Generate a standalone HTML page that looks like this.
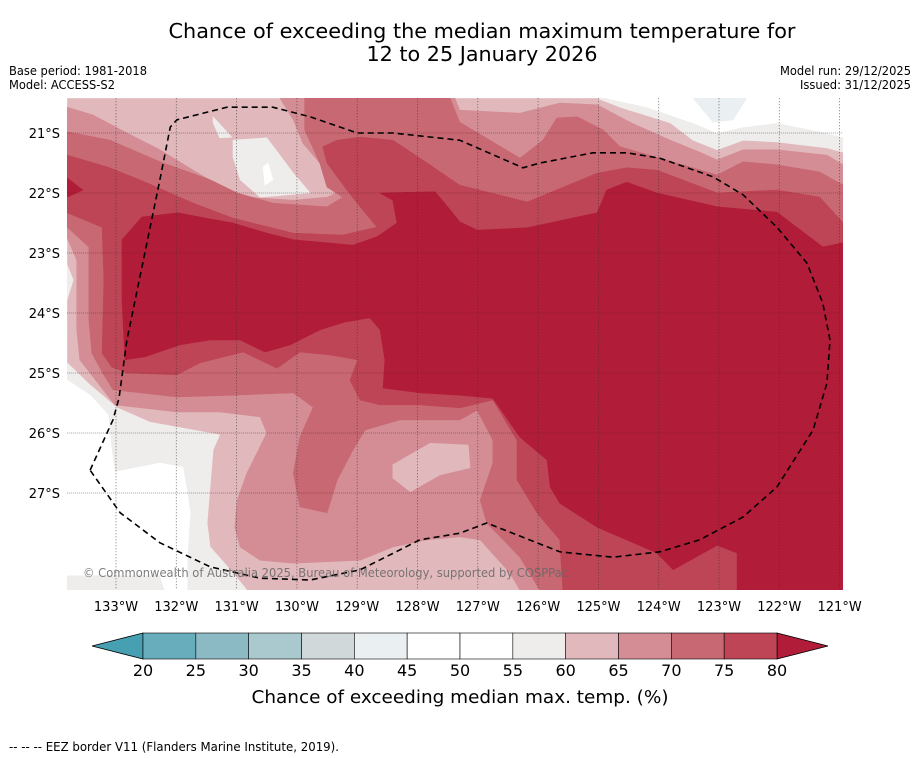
<!DOCTYPE html>
<html><head><meta charset="utf-8"><style>
html,body{margin:0;padding:0;background:#fff;}
svg{display:block;font-family:"DejaVu Sans","Liberation Sans",sans-serif;}
</style></head><body>
<svg id="fig" width="919" height="758" viewBox="0 0 919 758" xmlns="http://www.w3.org/2000/svg">
<text x="482" y="38" font-size="20" text-anchor="middle" textLength="627" lengthAdjust="spacingAndGlyphs">Chance of exceeding the median maximum temperature for</text>
<text x="482" y="61" font-size="20" text-anchor="middle" textLength="231" lengthAdjust="spacingAndGlyphs">12 to 25 January 2026</text>
<text x="9" y="75" font-size="12" textLength="138" lengthAdjust="spacingAndGlyphs">Base period: 1981-2018</text>
<text x="9" y="89" font-size="12" textLength="106" lengthAdjust="spacingAndGlyphs">Model: ACCESS-S2</text>
<text x="911" y="75" font-size="12" text-anchor="end" textLength="131" lengthAdjust="spacingAndGlyphs">Model run: 29/12/2025</text>
<text x="911" y="89" font-size="12" text-anchor="end" textLength="111" lengthAdjust="spacingAndGlyphs">Issued: 31/12/2025</text>
<defs><clipPath id="mapclip"><rect x="67" y="98" width="776" height="492"/></clipPath></defs>
<g id="map" clip-path="url(#mapclip)"></g>
<g id="axes"></g>
<text x="83" y="577" font-size="12" fill="#666" fill-opacity="0.85" textLength="485" lengthAdjust="spacingAndGlyphs">© Commonwealth of Australia 2025, Bureau of Meteorology, supported by COSPPac</text>
<g id="cbar"></g>
<text x="460" y="703" font-size="18" text-anchor="middle" textLength="417" lengthAdjust="spacingAndGlyphs">Chance of exceeding median max. temp. (%)</text>
<text x="9" y="751" font-size="12" textLength="330" lengthAdjust="spacingAndGlyphs">-- -- -- EEZ border V11 (Flanders Marine Institute, 2019).</text>
</svg>
<script>
// ---- data (lon in degrees W, lat in degrees S) ----
const lonTicks = [133,132,131,130,129,128,127,126,125,124,123,122,121];
const latTicks = [21,22,23,24,25,26,27];
const latTickLabels = ["21°S","22°S","23°S","24°S","25°S","26°S","27°S"];
const cbarBounds = [20,25,30,35,40,45,50,55,60,65,70,75,80];
const cbarColors = ["#67adbc","#8bbac5","#a9c9ce","#d0d8da","#eaeff1","#ffffff","#ffffff","#efedeb","#e1b8bc","#d48d95","#c86873","#be4555"];
const lowExtendColor = "#46a0b1";
const highExtendColor = "#b11c38";
const extentW = 133.81, extentE = 120.94, extentN = 20.42, extentS = 28.62;

const greyBottomLeft = [133.81,24.83,133.43,25.20,132.98,25.58,132.44,25.82,131.28,26.03,131.39,26.28,131.49,27.50,131.44,27.90,131.06,28.33,130.83,28.62,133.81,28.62];
const greyLeftSpot = [133.81,23.20,133.71,23.45,133.81,23.78];
const whiteBottomLeft = [133.81,25.12,133.43,25.37,133.13,25.70,133.07,26.32,133.02,26.65,132.27,26.50,131.89,26.57,131.82,27.00,131.77,27.33,131.82,28.07,131.82,28.62,132.19,28.62,132.27,28.37,133.81,28.37];
const greyTopLeft1 = [131.39,20.73,131.08,21.07,131.28,21.08,131.39,20.83];
const greyTopLeft2 = [131.06,21.12,130.50,21.08,130.06,21.67,129.78,22.00,130.61,22.07,130.94,21.78,131.06,21.40];
const whiteTopLeftSpot = [130.56,21.57,130.48,21.50,130.40,21.78,130.53,21.87];
const greyTopRight = [125.02,20.42,124.64,20.57,123.81,20.83,123.43,21.12,123.03,21.28,122.60,21.12,122.04,21.15,121.21,21.25,120.94,21.32,120.94,20.42];
const whiteTopRight = [124.86,20.42,124.19,20.57,123.43,20.83,123.03,21.00,122.60,20.90,122.04,20.83,121.21,21.00,120.94,21.07,120.94,20.42];
const blueTopRight = [123.43,20.42,123.10,20.82,122.77,20.78,122.54,20.42];
const region65 = [133.81,20.57,133.38,20.70,132.82,21.00,132.27,21.28,131.72,21.62,131.16,21.95,130.83,22.07,130.06,22.12,129.50,22.07,129.24,21.95,129.33,21.78,129.62,21.50,129.90,21.17,130.06,20.78,130.28,20.42,127.38,20.42,127.30,20.62,126.30,20.67,125.64,20.50,125.02,20.53,124.48,20.82,123.81,21.12,123.32,21.32,123.03,21.45,122.60,21.28,122.04,21.28,121.21,21.37,120.94,21.53,120.94,28.62,126.30,28.62,126.47,28.33,126.96,27.78,127.30,27.73,127.84,27.78,128.41,27.90,128.95,28.12,130.06,28.17,130.61,28.12,130.94,27.90,131.03,27.57,130.99,27.12,130.83,26.67,130.50,26.00,130.61,25.73,131.28,25.65,131.99,25.65,133.02,25.53,133.60,24.78,133.65,24.28,133.65,23.12,133.81,22.75];
const pocket60 = [128.41,26.53,127.79,26.17,127.16,26.20,127.13,26.58,127.63,26.70,128.12,26.98,128.41,26.75];
const region70 = [133.81,20.98,133.10,21.12,132.27,21.48,131.44,21.78,130.99,22.00,130.40,22.17,129.50,22.23,129.24,22.07,129.50,21.90,129.62,21.50,129.87,20.95,129.87,20.42,127.46,20.42,127.30,20.82,126.30,21.42,125.92,21.12,125.69,20.75,125.35,20.73,124.92,20.95,124.64,21.23,123.98,21.42,123.03,21.70,122.60,21.48,122.04,21.53,121.33,21.65,120.94,21.87,120.94,28.62,125.97,28.62,126.30,28.07,126.85,27.50,126.96,27.12,126.75,26.50,126.75,26.12,127.01,25.62,127.30,25.78,128.29,25.78,128.87,25.95,129.07,26.28,129.33,26.78,129.50,27.33,129.95,27.23,130.06,26.67,129.95,26.07,129.73,25.57,130.06,25.33,131.06,25.37,131.99,25.40,133.05,25.28,133.22,25.00,133.40,24.67,133.45,24.12,133.45,22.90,133.81,22.57];
const region75 = [133.81,21.37,133.10,21.58,132.49,21.83,131.72,22.17,131.06,22.42,130.06,22.67,129.24,22.70,128.67,22.57,128.95,22.23,129.17,21.95,129.50,21.50,129.57,21.23,129.33,21.12,128.95,21.07,128.41,21.12,127.84,21.50,127.30,21.87,126.18,22.15,125.02,21.67,124.53,21.58,124.03,21.62,123.03,22.00,122.04,21.95,121.33,22.07,120.94,22.50,120.94,28.62,125.59,28.62,125.64,27.78,126.02,27.33,126.35,26.78,126.35,26.12,126.75,25.45,127.30,25.58,127.96,25.53,128.62,25.53,128.95,25.45,129.12,25.12,128.99,24.78,129.45,24.70,129.95,24.65,130.33,24.92,130.89,24.65,131.61,24.83,131.99,25.03,132.82,25.00,133.07,24.90,133.23,24.67,133.20,23.45,133.23,22.57,133.81,22.33];
const region80 = [132.90,22.78,132.57,22.40,131.97,22.33,131.61,22.40,131.06,22.50,130.50,22.67,130.06,22.78,129.50,22.83,129.07,22.87,128.67,22.73,128.34,22.50,128.41,22.12,128.62,22.00,127.71,21.98,127.46,22.28,127.30,22.48,127.01,22.62,126.18,22.58,125.02,22.33,124.86,21.95,124.53,21.82,124.03,22.00,123.03,22.23,122.04,22.32,121.28,22.90,120.94,22.83,120.94,28.62,122.70,28.62,122.70,28.00,123.03,27.87,123.76,28.28,124.03,28.00,125.02,27.57,125.64,27.17,125.80,26.90,125.85,26.45,126.30,26.07,126.75,25.42,127.30,25.37,127.96,25.33,128.57,25.25,128.54,24.78,128.62,24.28,128.79,24.08,129.20,24.15,129.62,24.28,130.11,24.53,130.53,24.65,130.94,24.45,131.44,24.45,131.94,24.53,132.52,24.73,132.85,24.78,132.90,23.78];
const region80Left = [133.81,21.75,133.55,21.95,133.81,22.07];
const eezBorder = [133.43,26.62,133.05,25.78,132.95,25.42,132.82,24.45,132.29,21.87,132.10,20.90,131.99,20.78,131.16,20.57,130.40,20.57,129.78,20.73,129.00,21.00,128.41,21.00,127.30,21.12,126.25,21.58,125.97,21.50,125.09,21.33,124.53,21.33,123.98,21.42,123.10,21.73,122.60,22.03,122.04,22.57,121.54,23.17,121.28,23.83,121.16,24.45,121.21,25.17,121.44,25.95,122.04,26.90,122.60,27.40,123.32,27.78,123.98,27.98,124.76,28.07,125.64,27.98,126.85,27.50,127.30,27.67,127.96,27.78,128.95,28.28,129.78,28.45,130.61,28.42,131.44,28.23,132.27,27.83,132.93,27.33,133.43,26.62];

// ---- axis functions ----
const NS = "http://www.w3.org/2000/svg";
function xOf(lonW){ return 116 + (133 - lonW) * 60.3; }
function yOf(latS){ return 133 + (latS - 21) * 60; }
function pts(arr){ let s=[]; for(let i=0;i<arr.length;i+=2){ s.push(xOf(arr[i]).toFixed(1)+","+yOf(arr[i+1]).toFixed(1)); } return s.join(" "); }
function mk(tag, parent){ const e=document.createElementNS(NS,tag); parent.appendChild(e); return e; }

const map = document.getElementById("map");
const bg = mk("rect", map);


bg.setAttribute("x", xOf(extentW)); bg.setAttribute("y", yOf(extentN));
bg.setAttribute("width", xOf(extentE)-xOf(extentW)); bg.setAttribute("height", yOf(extentS)-yOf(extentN));
bg.setAttribute("fill", "#e1b8bc");

function poly(arr, color, name){
  const p = mk("polygon", map);
  
  
  p.setAttribute("points", pts(arr));
  p.setAttribute("fill", color);
  p.setAttribute("stroke", color);
  p.setAttribute("stroke-width", "0.6");
}
poly(greyBottomLeft, "#efedeb", "contour-55-60-southwest");
poly(greyLeftSpot, "#efedeb", "contour-55-60-west-spot");
poly(whiteBottomLeft, "#ffffff", "contour-45-55-southwest");
poly(greyTopLeft1, "#efedeb", "contour-55-60-north-spot");
poly(greyTopLeft2, "#efedeb", "contour-55-60-north");
poly(whiteTopLeftSpot, "#ffffff", "contour-45-55-north-spot");
poly(greyTopRight, "#efedeb", "contour-55-60-northeast");
poly(whiteTopRight, "#ffffff", "contour-45-55-northeast");
poly(blueTopRight, "#eaeff1", "contour-40-45-northeast");
poly(region65, "#d48d95", "contour-65-70");
poly(pocket60, "#e1b8bc", "contour-60-65-pocket");
poly(region70, "#c86873", "contour-70-75");
poly(region75, "#be4555", "contour-75-80");
poly(region80, "#b11c38", "contour-above-80");
poly(region80Left, "#b11c38", "contour-above-80-west");

// grid
lonTicks.forEach(function(l){
  const ln = mk("line", map);
  
  
  ln.setAttribute("x1", xOf(l)); ln.setAttribute("x2", xOf(l));
  ln.setAttribute("y1", yOf(extentN)); ln.setAttribute("y2", yOf(extentS));
  ln.setAttribute("stroke", "#333"); ln.setAttribute("stroke-width", "0.8");
  ln.setAttribute("stroke-dasharray", "1,2"); ln.setAttribute("stroke-opacity", "0.8");
});
latTicks.forEach(function(l){
  const ln = mk("line", map);
  
  
  ln.setAttribute("x1", xOf(extentW)); ln.setAttribute("x2", xOf(extentE));
  ln.setAttribute("y1", yOf(l)); ln.setAttribute("y2", yOf(l));
  ln.setAttribute("stroke", "#333"); ln.setAttribute("stroke-width", "0.8");
  ln.setAttribute("stroke-dasharray", "1,1"); ln.setAttribute("stroke-opacity", "0.6");
});
// EEZ
const eez = mk("polyline", map);


eez.setAttribute("points", pts(eezBorder));
eez.setAttribute("fill", "none"); eez.setAttribute("stroke", "#000");
eez.setAttribute("stroke-width", "1.6"); eez.setAttribute("stroke-dasharray", "6,4");
eez.setAttribute("stroke-linejoin", "round");

// axis labels
const axes = document.getElementById("axes");
lonTicks.forEach(function(l){
  const t = mk("text", axes);
  
  
  t.setAttribute("x", xOf(l)); t.setAttribute("y", 611);
  t.setAttribute("font-size", "13"); t.setAttribute("text-anchor", "middle");
  t.textContent = l + "°W";
});
latTicks.forEach(function(l, i){
  const t = mk("text", axes);
  
  
  t.setAttribute("x", 60); t.setAttribute("y", yOf(l) + 5);
  t.setAttribute("font-size", "13"); t.setAttribute("text-anchor", "end");
  t.textContent = latTickLabels[i];
});

// colorbar
const cb = document.getElementById("cbar");
const cbX0 = 143, cbX1 = 777, cbY = 633, cbH = 26;
function cx(v){ return cbX0 + (v - cbarBounds[0]) / (cbarBounds[cbarBounds.length-1] - cbarBounds[0]) * (cbX1 - cbX0); }
const lowT = mk("polygon", cb);


lowT.setAttribute("points", cbX0+","+cbY+" 92,"+(cbY+cbH/2)+" "+cbX0+","+(cbY+cbH));
lowT.setAttribute("fill", lowExtendColor); lowT.setAttribute("stroke", "#000"); lowT.setAttribute("stroke-width", "0.8");
const highT = mk("polygon", cb);


highT.setAttribute("points", cbX1+","+cbY+" 828,"+(cbY+cbH/2)+" "+cbX1+","+(cbY+cbH));
highT.setAttribute("fill", highExtendColor); highT.setAttribute("stroke", "#000"); highT.setAttribute("stroke-width", "0.8");
cbarColors.forEach(function(c, i){
  const r = mk("rect", cb);
  
  
  r.setAttribute("x", cx(cbarBounds[i])); r.setAttribute("y", cbY);
  r.setAttribute("width", cx(cbarBounds[i+1]) - cx(cbarBounds[i])); r.setAttribute("height", cbH);
  r.setAttribute("fill", c); r.setAttribute("stroke", "#000"); r.setAttribute("stroke-width", "0.6");
});
cbarBounds.forEach(function(v){
  const t = mk("text", cb);
  
  
  t.setAttribute("x", cx(v)); t.setAttribute("y", 676);
  t.setAttribute("font-size", "16"); t.setAttribute("text-anchor", "middle");
  t.textContent = v;
});
</script>
</body></html>
